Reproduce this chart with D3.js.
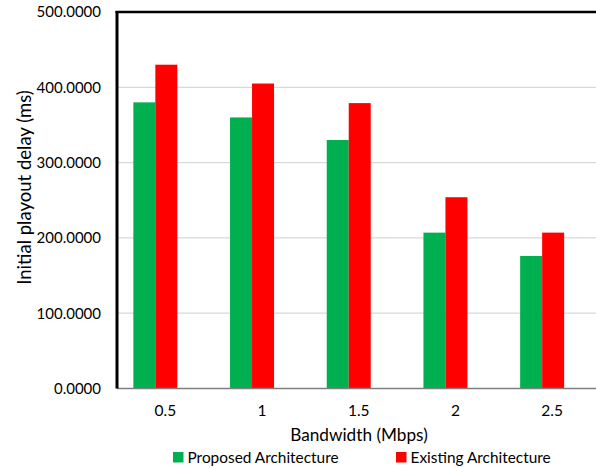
<!DOCTYPE html>
<html>
<head>
<meta charset="utf-8">
<script src="https://cdn.jsdelivr.net/npm/d3@7"></script>
<style>
  html, body { margin: 0; padding: 0; background: #fff; }
  svg { display: block; font-family: Lato, "Open Sans", sans-serif; }
</style>
</head>
<body>
<svg id="chart" width="596" height="468"></svg>
<script>
// Bandwidth categories (Mbps)
const categories = ["0.5", "1", "1.5", "2", "2.5"];
// Initial playout delay (ms) per architecture
const proposed = [380, 360, 330, 207, 176];
const existing = [430, 405, 379, 254, 207];
const seriesNames = ["Proposed Architecture", "Existing Architecture"];
const seriesColors = ["#00b050", "#ff0000"];
const yTicks = [0, 100, 200, 300, 400, 500];

const svg = d3.select("#chart");
const plotLeft = 117, plotTop = 12, plotBottom = 388.5, plotRight = 600.5;

const y = d3.scaleLinear().domain([0, 500]).range([plotBottom, plotTop]);
const x = d3.scaleBand().domain(categories).range([plotLeft, plotRight]);
const sub = d3.scaleBand().domain(seriesNames).range([0, 44]);
const groupOffset = x.bandwidth() * 0.169;

// gridlines
svg.append("g")
  .selectAll("line")
  .data(yTicks.filter(t => t > 0 && t < 500))
  .join("line")
  .attr("x1", plotLeft).attr("x2", 596)
  .attr("y1", d => y(d)).attr("y2", d => y(d))
  .attr("stroke", "#d9d9d9").attr("stroke-width", 1.2);

// bars
const rows = categories.map((c, i) => ({ c, vals: [proposed[i], existing[i]] }));
const groups = svg.append("g").selectAll("g")
  .data(rows)
  .join("g")
  .attr("transform", d => `translate(${x(d.c) + groupOffset},0)`);
groups.selectAll("rect")
  .data(d => d.vals.map((v, k) => ({ v, k })))
  .join("rect")
  .attr("x", d => sub(seriesNames[d.k]))
  .attr("width", sub.bandwidth())
  .attr("y", d => y(d.v))
  .attr("height", d => y(0) - y(d.v))
  .attr("fill", d => seriesColors[d.k]);

// x axis line
svg.append("line")
  .attr("x1", plotLeft).attr("x2", 596)
  .attr("y1", plotBottom).attr("y2", plotBottom)
  .attr("stroke", "#7f7f7f").attr("stroke-width", 1.5);

// plot frame: left and top
svg.append("line")
  .attr("x1", plotLeft).attr("x2", plotLeft)
  .attr("y1", plotTop - 1).attr("y2", plotBottom)
  .attr("stroke", "#000").attr("stroke-width", 3);
svg.append("line")
  .attr("x1", plotLeft - 1.5).attr("x2", 596)
  .attr("y1", plotTop).attr("y2", plotTop)
  .attr("stroke", "#000").attr("stroke-width", 2.5);

// y axis labels
const yAxis = d3.axisLeft(y).tickValues(yTicks)
  .tickFormat(d3.format(".4f")).tickSize(0).tickPadding(0);
svg.append("g")
  .attr("transform", `translate(101,0)`)
  .call(yAxis)
  .call(g => g.select(".domain").remove())
  .call(g => g.selectAll("text")
    .attr("font-family", "Lato, sans-serif")
    .attr("font-size", 15).attr("fill", "#000"));

// x axis labels
const xAxis = d3.axisBottom(x).tickSize(0).tickPadding(0);
svg.append("g")
  .attr("transform", `translate(0,405)`)
  .call(xAxis)
  .call(g => g.select(".domain").remove())
  .call(g => g.selectAll("text")
    .attr("font-family", "Lato, sans-serif")
    .attr("font-size", 15.5).attr("fill", "#000"));

// axis titles
svg.append("text")
  .attr("x", 359).attr("y", 441)
  .attr("text-anchor", "middle")
  .attr("font-size", 17.2).attr("fill", "#000")
  .text("Bandwidth (Mbps)");
svg.append("text")
  .attr("transform", "translate(31,187.5) rotate(-90)")
  .attr("text-anchor", "middle")
  .attr("font-size", 18.5).attr("fill", "#000")
  .text("Initial playout delay (ms)");

// legend
const legendX = [173, 396];
const legend = svg.append("g").selectAll("g")
  .data(seriesNames)
  .join("g")
  .attr("transform", (d, i) => `translate(${legendX[i]},452)`);
legend.append("rect")
  .attr("width", 10.5).attr("height", 10.5)
  .attr("fill", (d, i) => seriesColors[i]);
legend.append("text")
  .attr("x", 14.5).attr("y", 11)
  .attr("font-size", 15.4).attr("fill", "#000")
  .text(d => d);
</script>
</body>
</html>
